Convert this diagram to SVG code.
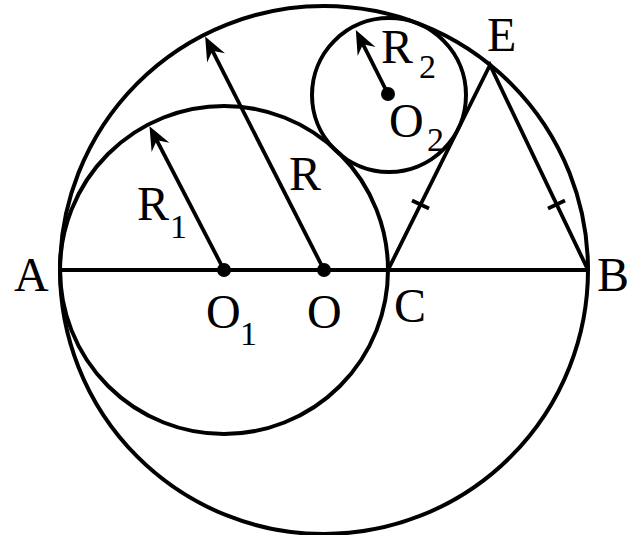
<svg xmlns="http://www.w3.org/2000/svg" width="637" height="535" viewBox="0 0 637 535">
<style>
.c{fill:none;stroke:#000;stroke-width:4}
.l{fill:none;stroke:#000;stroke-width:3.8}
.t{font-family:"Liberation Serif","Times New Roman",serif;font-size:48px;fill:#000}
.s{font-family:"Liberation Serif","Times New Roman",serif;font-size:34px;fill:#000}
</style>
<defs>
<marker id="ah" markerUnits="userSpaceOnUse" orient="auto" markerWidth="30" markerHeight="24" viewBox="-14 -12 30 24" refX="0" refY="0" overflow="visible">
<path d="M12,0 L-12,-10 L-4,0 L-12,10 Z" fill="#000"/>
</marker>
</defs>
<rect width="637" height="535" fill="#fff"/>
<g id="circles">
<circle class="c" cx="324" cy="270" r="264"/>
<circle class="c" cx="224" cy="270" r="164"/>
<circle class="c" cx="389" cy="95" r="77"/>
</g>
<g id="connectors">
<line class="l" x1="60" y1="270" x2="588" y2="270"/>
<polyline class="l" points="388,270 490,65 588,270"/>
<line class="l" x1="412" y1="200.5" x2="429" y2="208.5"/>
<line class="l" x1="548" y1="208.5" x2="565" y2="200.5"/>
<line class="l" x1="324" y1="270" x2="210.6" y2="47.2" marker-end="url(#ah)"/>
<line class="l" x1="224" y1="270" x2="155" y2="136.8" marker-end="url(#ah)"/>
<line class="l" x1="388" y1="94" x2="361.2" y2="40.7" marker-end="url(#ah)"/>
</g>
<g id="points">
<circle cx="224" cy="270" r="7"/>
<circle cx="324" cy="270" r="7"/>
<circle cx="388" cy="94" r="7"/>
</g>
<g id="labels">
<text class="t" x="14" y="291">A</text>
<text class="t" x="597" y="291">B</text>
<text class="t" x="394" y="322">C</text>
<text class="t" x="487" y="51">E</text>
<text class="t" x="307" y="328">O</text>
<text class="t" x="206" y="328">O</text><text class="s" x="240" y="345">1</text>
<text class="t" x="389" y="137">O</text><text class="s" x="427" y="151">2</text>
<text class="t" x="137" y="220">R</text><text class="s" x="170" y="238">1</text>
<text class="t" x="381" y="63">R</text><text class="s" x="419" y="78">2</text>
<text class="t" x="289" y="190">R</text>
</g>
</svg>
